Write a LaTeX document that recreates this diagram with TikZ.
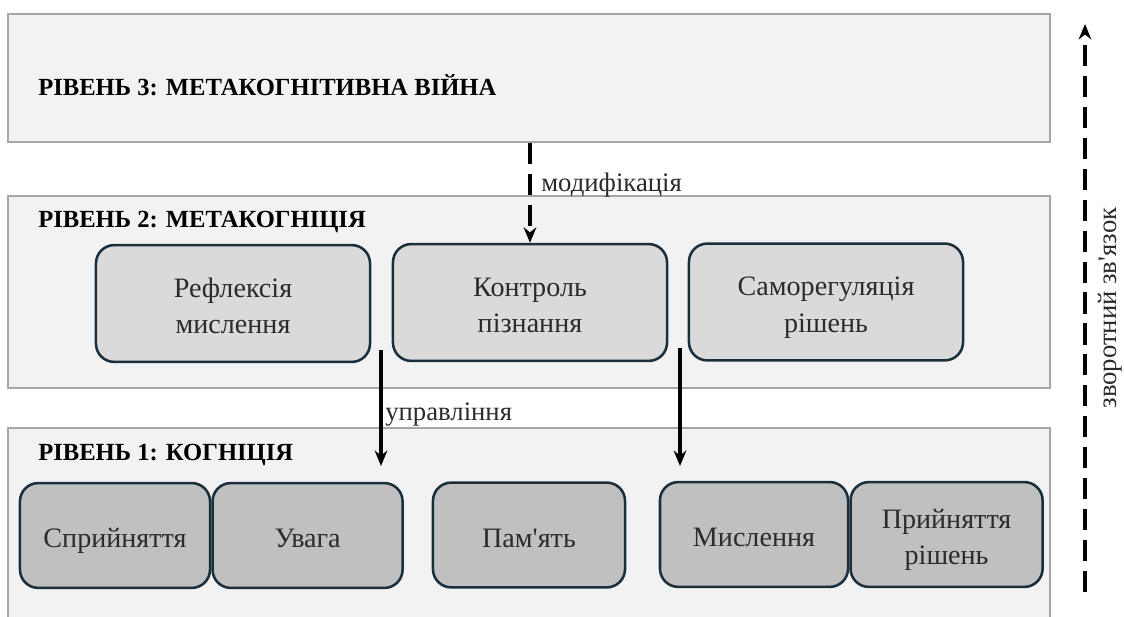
\documentclass[tikz,border=0pt]{standalone}
\usepackage{fontspec}
\setmainfont{Liberation Serif}
\usetikzlibrary{arrows.meta,positioning}
\usepackage{xcolor}

\definecolor{levelfill}{HTML}{F2F2F2}
\definecolor{leveldraw}{HTML}{A6A6A6}
\definecolor{boxdraw}{HTML}{1B2E3C}
\definecolor{boxlight}{HTML}{DADADA}
\definecolor{boxdark}{HTML}{C0C0C0}
\definecolor{txt}{HTML}{2B2B2B}

% box text: rows 26pt apart, baseline of the rows centred a little low
\newcommand{\boxtext}[1]{\begin{tabular}[t]{@{}c@{}}\rule{0pt}{25pt}#1\end{tabular}}

\tikzset{
  levelbox/.style={draw=leveldraw,fill=levelfill,line width=1.5pt,inner sep=0pt,minimum width=26.05cm},
  leveltitle/.style={anchor=west,inner sep=0pt,font=\fontsize{17.5}{21}\selectfont\bfseries},
  metabox/.style={draw=boxdraw,fill=boxlight,line width=1.8pt,rounded corners=13pt,minimum width=6.85cm,minimum height=2.92cm,inner sep=0pt,text=txt,font=\fontsize{20}{26}\selectfont},
  cogbox/.style={metabox,fill=boxdark,minimum width=4.75cm,minimum height=2.62cm},
  lbl/.style={text=txt,inner sep=0pt,font=\fontsize{19}{23}\selectfont},
  arr/.style={line width=2.4pt,-{Stealth[length=11pt,width=9pt]}},
  dasharr/.style={arr,line width=2.5pt,dash pattern=on 15pt off 7pt}
}

\begin{document}
\begin{tikzpicture}[x=0.025cm,y=-0.025cm]

    \useasboundingbox (0,0) rectangle (1124,617);

    %levels

    \node [levelbox,minimum height=3.2cm] (l3) at (529,78) {};
    \node [leveltitle] (t3) at (38,85) {РІВЕНЬ 3: МЕТАКОГНІТИВНА ВІЙНА};

    \node [levelbox,minimum height=4.8cm] (l2) at (529,292) {};
    \node [leveltitle] (t2) at (38,222) {РІВЕНЬ 2: МЕТАКОГНІЦІЯ};

    \node [levelbox,minimum height=5.8cm] (l1) at (529,544) {};
    \node [leveltitle] (t1) at (38,455) {РІВЕНЬ 1: КОГНІЦІЯ};

    %nodes

        \node [metabox] (refl) at (233,303.5) {\boxtext{Рефлексія\\мислення}};
        \node [metabox] (kontr) at (530,302.5) {\boxtext{Контроль\\пізнання}};
        \node [metabox] (samoreg) at (826,302) {\boxtext{Саморегуляція\\рішень}};

        \node [cogbox] (spryi) at (115,535.5) {\boxtext{Сприйняття}};
        \node [cogbox,right=0cm of spryi] (uvaga) {\boxtext{Увага}};
        \node [cogbox,minimum width=4.8cm] (pamyat) at (529,535) {\boxtext{Пам\textquotesingle ять}};
        \node [cogbox,minimum width=4.7cm] (myslen) at (754,534.5) {\boxtext{Мислення}};
        \node [cogbox,minimum width=4.8cm,right=0cm of myslen] (pryin) {\boxtext{Прийняття\\рішень}};

    %arrows

        \draw [dasharr] (l3.south -| kontr.north) -- (kontr.north);
        \node [lbl,anchor=west] (modif) at (541,185) {модифікація};

        \coordinate (u1) at (381,350);
        \coordinate (u2) at (381,466);
        \draw [arr] (u1) -- (u2);
        \node [lbl,anchor=west] (upr) at (385,415) {управління};

        \coordinate (m1) at (680,348);
        \coordinate (m2) at (680,466);
        \draw [arr] (m1) -- (m2);

        \coordinate (f1) at (1085,592);
        \coordinate (f2) at (1085,24);
        \draw [dasharr] (f1) -- (f2);
        \node [lbl,rotate=90] (zv) at (1110,308) {зворотний зв\textquotesingle язок};
\end{tikzpicture}
\end{document}
